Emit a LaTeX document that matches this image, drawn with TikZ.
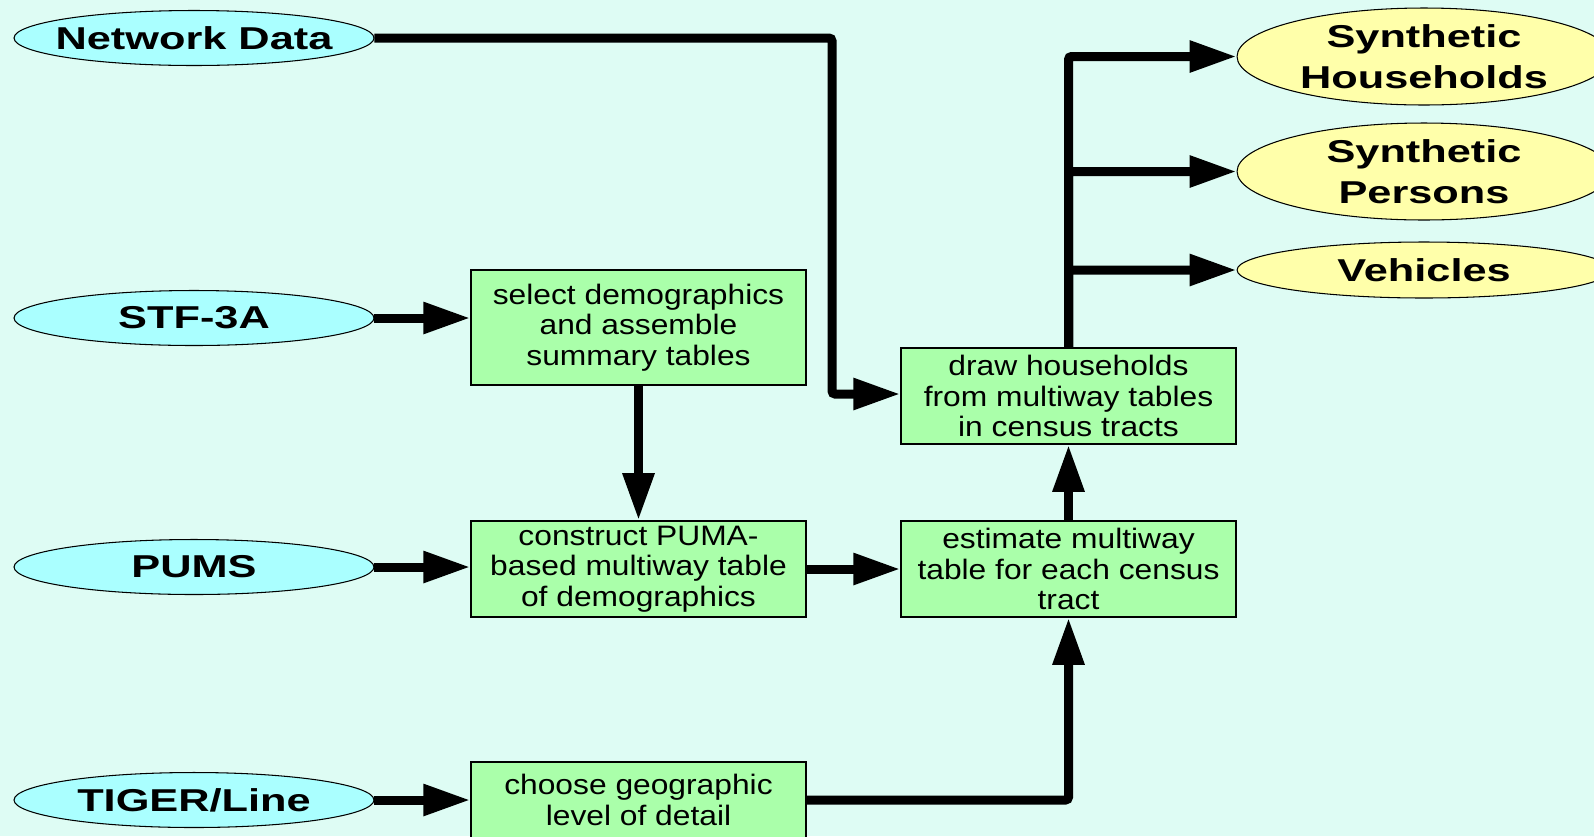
\documentclass[tikz,border=0pt]{standalone}
\usepackage{fontspec}
\setmainfont{Liberation Sans}
\newfontfamily\boxfont[FakeStretch=1.13]{Liberation Sans}
\newfontfamily\ovalfont[FakeStretch=1.37]{Liberation Sans}
\usetikzlibrary{shapes,arrows.meta,positioning,calc}

\definecolor{bgmint}{RGB}{222,252,244}
\definecolor{incyan}{RGB}{170,255,255}
\definecolor{procgreen}{RGB}{170,255,170}
\definecolor{outyellow}{RGB}{255,255,170}

\begin{document}
\begin{tikzpicture}[
    x=0.02cm, y=-0.02cm,
    >={Triangle[length=0.94cm,width=0.6cm]},
    % data sources and outputs
    input/.style={ellipse, draw, line width=0.6pt, fill=incyan, minimum width=7.2cm, minimum height=1.1cm, inner ysep=0, inner xsep=-0.4cm, font=\ovalfont\bfseries\fontsize{18}{23}\selectfont},
    output/.style={ellipse, draw, line width=0.6pt, fill=outyellow, minimum width=7.48cm, minimum height=1.94cm, inner ysep=0, inner xsep=-0.4cm, align=center, font=\ovalfont\bfseries\fontsize{18}{23}\selectfont},
    % processing steps
    process/.style={rectangle, draw, line width=0.9pt, fill=procgreen, minimum width=6.7cm, minimum height=1.92cm, inner sep=0, align=center, font=\boxfont\fontsize{16}{17.5}\selectfont},
    flow/.style={->, draw, line width=0.18cm, rounded corners=0.06cm}
  ]

  % Background
  \useasboundingbox (0,0) rectangle (1594,836);
  \fill[bgmint] (0,0) rectangle (1594,836);

  % Inputs
  \node[input] (net) at (194,38) {Network Data};
  \node[input] (stf) at (194,318) {STF-3A};
  \node[input] (pums) at (194,567) {PUMS};
  \node[input] (tiger) at (194,800) {TIGER/Line};

  % Steps
  \node[process, minimum height=2.3cm] (select) at (638.5,327.5) {select demographics\\and assemble\\summary tables};
  \node[process] (construct) at (638.5,569) {construct PUMA-\\based multiway table\\of demographics};
  \node[process, minimum height=1.52cm] (choose) at (638.5,800) {choose geographic\\level of detail};
  \node[process] (drawhh) at (1068.5,396) {draw households\\from multiway tables\\in census tracts};
  \node[process] (estimate) at (1068.5,569) {estimate multiway\\table for each census\\tract};

  % Outputs
  \node[output] (synhh) at (1424,56.5) {Synthetic\\Households};
  \node[output] (synpers) at (1424,171.5) {Synthetic\\Persons};
  \node[output, minimum height=1.12cm] (veh) at (1424,270) {Vehicles};

  % Flows
  \coordinate (netbend) at (832,394);
  \draw[flow] (net) -| (netbend) -- (netbend -| drawhh.west);
  \draw[flow] (stf) -- (stf -| select.west);
  \draw[flow] (select) -- (construct);
  \draw[flow] (pums) -- (pums -| construct.west);
  \draw[flow] (construct) -- (estimate);
  \draw[flow] (tiger) -- (choose);
  \draw[flow] (choose) -| (estimate);
  \draw[flow] (estimate) -- (drawhh);
  \draw[flow] (drawhh) |- (synhh);
  \draw[flow] (drawhh) |- (synpers);
  \draw[flow] (drawhh) |- (veh);
\end{tikzpicture}
\end{document}
